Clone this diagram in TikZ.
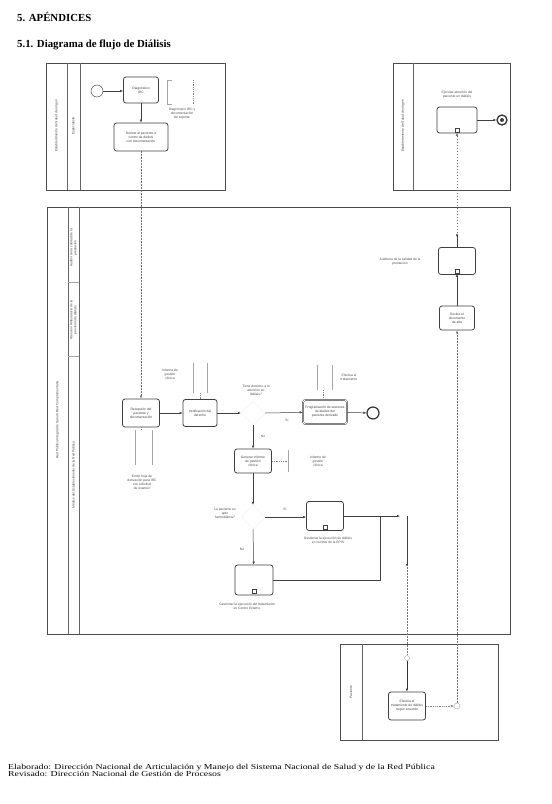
\documentclass[tikz,border=0pt]{standalone}
\usepackage{fontspec}
\setmainfont{Liberation Serif}
\newfontfamily\diag{Liberation Sans}
\usetikzlibrary{arrows.meta,shapes.geometric}
\begin{document}
\begin{tikzpicture}[x=1pt,y=-1pt,
  poolbox/.style={draw=black!70, line width=0.6pt},
  bandline/.style={draw=black!60, line width=0.5pt},
  task/.style={draw=black!75, rounded corners=2.5pt, line width=0.8pt, fill=white,
     font=\diag\fontsize{3.3}{4.1}\selectfont, align=center, inner sep=1pt, text=black!75},
  tiny/.style={font=\diag\fontsize{3.3}{4.1}\selectfont, align=center, text=black!70, inner sep=0.5pt},
  lanelabel/.style={font=\diag\fontsize{3.3}{4.1}\selectfont, align=center, text=black!75, rotate=90, inner sep=0.5pt},
  flow/.style={-{Latex[length=3pt,width=2.4pt]}, draw=black!75, line width=0.5pt},
  plain/.style={draw=black!75, line width=0.5pt},
  msg/.style={draw=black!55, line width=0.45pt, dash pattern=on 1.5pt off 1.5pt},
  msgarrow/.style={msg, -{Latex[length=3pt,width=2.4pt]}},
  assoc/.style={draw=black!50, line width=0.4pt, dash pattern=on 0.6pt off 1.2pt},
  notebr/.style={draw=black!35, line width=0.4pt},
  gate/.style={diamond, draw=black!5, line width=0.3pt, minimum width=24pt, minimum height=24pt, inner sep=0pt},
  evstart/.style={circle, draw=black!70, line width=0.5pt, minimum size=12pt, inner sep=0pt},
  evend/.style={circle, draw=black!80, line width=1.2pt, minimum size=12pt, inner sep=0pt},
  subm/.style={draw=black!75, line width=0.5pt, fill=white, minimum size=4pt, inner sep=0pt}
]
\path[use as bounding box, fill=white] (0,0) rectangle (552,804);

% Titles
\node[anchor=west, font=\bfseries\fontsize{10.8}{12}\selectfont, inner sep=0pt] (title1) at (17,17) {5. APÉNDICES};
\node[anchor=west, font=\bfseries\fontsize{10.8}{12}\selectfont, inner sep=0pt] (title2) at (17,45) {5.1. Diagrama de flujo de Diálisis};

% ---------- Pool 1 (top left)
\draw[poolbox] (46,63) rectangle (225,190);
\draw[bandline] (67,63) -- (67,190);
\draw[bandline] (80,63) -- (80,190);
\node[lanelabel] (p1lab) at (56.5,126) {Establecimiento de Salud de origen};
\node[lanelabel] (l1lab) at (73.5,126) {Especialista};

% ---------- Pool 2 (top right)
\draw[poolbox] (393,63) rectangle (510,190);
\draw[bandline] (413,63) -- (413,190);
\node[lanelabel] (p2lab) at (403,126) {Establecimiento de Salud de origen};

% ---------- Main pool
\draw[poolbox] (47,207) rectangle (510,634);
\draw[bandline] (68,207) -- (68,634);
\draw[bandline] (79,207) -- (79,634);
\draw[bandline, black!35] (68,282) -- (79,282);
\draw[bandline, black!35] (68,356) -- (79,356);
\node[lanelabel] (p3lab) at (57.5,420) {Red Pública Integral de Salud / Red Complementaria};
\node[lanelabel] (l2lab) at (73.5,248) {Auditor de la calidad de la\\prestación};
\node[lanelabel] (l3lab) at (73.5,320) {Atención Ambulatoria de la\\provisión de diálisis};
\node[lanelabel] (l4lab) at (73.5,475) {Médico del Establecimiento de la Red Pública};

% ---------- Bottom pool
\draw[poolbox] (340,644) rectangle (498,740);
\draw[bandline] (362,644) -- (362,740);
\node[lanelabel] (p4lab) at (351,692) {Paciente};

% ---------- Pool 1 content
\node[evstart] (start) at (97,91) {};
\node[task, minimum width=35pt, minimum height=26pt] (t1) at (141,90) {Diagnóstico\\IRC};
\node[task, minimum width=54pt, minimum height=28pt] (t2) at (141,137) {Derivar al paciente a\\centro de diálisis\\con documentación};
\draw[notebr] (172,80) -- (167,80) -- (167,104) -- (172,104);
\draw[assoc] (193,80) -- (193,104);
\node[tiny] (a1) at (182,114) {Diagnóstico IRC y\\documentación\\de soporte};
\draw[flow] (start) -- (t1.west |- start);
\draw[flow] (t1) -- (t2);

% ---------- Pool 2 content
\node[task, minimum width=40pt, minimum height=26pt] (tr) at (457,120) {};
\node[subm] (trm) at (457,130.5) {};
\node[tiny] (trlab) at (457,95) {Ejecutar atención del\\paciente en diálisis};
\node[circle, draw=black!80, line width=1.3pt, minimum size=10pt, inner sep=0pt] (end2) at (502,120) {};
\node[circle, fill=black!75, minimum size=4pt, inner sep=0pt] (end2i) at (502,120) {};
\draw[flow] (tr) -- (end2);

% ---------- Main pool content
\node[task, minimum width=37pt, minimum height=28pt] (tA) at (141,413) {Recepción del\\paciente y\\documentación};
\node[task, minimum width=34pt, minimum height=27pt] (tB) at (200,413) {Verificación del\\derecho};
\node[gate] (g1) at (253,413) {};
\node[task, minimum width=44pt, minimum height=24pt, double, double distance=0.7pt, line width=0.5pt] (tC) at (325,412) {Programación de sesiones\\de diálisis del\\paciente derivado};
\node[evend] (end1) at (373,413) {};
\node[task, minimum width=37pt, minimum height=24pt] (tD) at (253,461) {Generar informe\\de gestión\\clínica};
\node[gate] (g2) at (253,517) {};
\node[task, minimum width=37pt, minimum height=29pt] (tE) at (325,516) {};
\draw[draw=black!75, line width=1pt] ([xshift=2pt]tE.north west) -- ([xshift=-2pt]tE.north east);
\node[subm] (tEm) at (325,527) {};
\node[task, minimum width=38pt, minimum height=30pt] (tF) at (254,580) {};
\node[subm] (tFm) at (254,591) {};
\node[task, minimum width=37pt, minimum height=27pt] (tH) at (457,261) {};
\node[subm] (tHm) at (457,271.5) {};
\node[task, minimum width=35pt, minimum height=24pt] (tI) at (457,318) {Recibe el\\documento\\de alta};

% labels
\node[tiny] (g1lab) at (256,390) {Tiene derecho a la\\atención en\\diálisis?};
\node[tiny] (g1si) at (287,420) {Sí};
\node[tiny] (g1no) at (263,436) {No};
\node[tiny] (g2lab) at (225,513) {La paciente es\\apto\\hemodiálisis?};
\node[tiny] (g2si) at (285,509) {Sí};
\node[tiny] (g2no) at (242,549) {No};
\node[tiny] (tElab) at (328,540) {Gestionar la ejecución de diálisis\\en centros de la RPIS};
\node[tiny] (tFlab) at (247,606) {Gestionar la ejecución del tratamiento\\en Centro Externo};
\node[tiny] (tHlab) at (400,262) {Auditoría de la calidad de la\\prestación};

% annotations
\draw[notebr] (193,363) -- (193,393);
\draw[notebr] (207,363) -- (207,393);
\node[tiny] (a2) at (170,374) {Informe de\\gestión\\clínica};
\draw[assoc] (200,393) -- (tB.north);
\draw[notebr] (135,430) -- (135,465);
\draw[notebr] (152,430) -- (152,465);
\draw[assoc] (tA.south) -- (141,430);
\node[tiny] (a3) at (142,482) {Emitir hoja de\\derivación para IRC\\con solicitud\\de examen};
\draw[notebr] (317,365) -- (317,390);
\draw[notebr] (332,365) -- (332,390);
\draw[assoc] (323,390) -- (323,400);
\node[tiny] (a4) at (349,377) {Efectúa el\\tratamiento};
\draw[assoc] (tD.east) -- (288,461);
\draw[notebr] (288,450) -- (288,472);
\node[tiny] (a5) at (318,461) {Informe de\\gestión\\clínica};

% flows
\draw[msgarrow] (t2.south) -- (tA.north);
\draw[flow] (tA) -- (tB);
\draw[flow] (tB) -- (g1.west);
\draw[flow] (g1.east) -- (tC);
\draw[flow] (tC) -- (end1);
\draw[flow] (g1.south) -- (tD);
\draw[flow] (tD) -- (g2.north);
\draw[flow] (g2.east) -- (tE.west |- g2.east);
\draw[flow] (g2.south) -- (tF);
\coordinate (mj) at (380,516);
\coordinate (mr) at (400,516);
\draw[plain] (tE.east |- mj) -- (mj);
\draw[flow] (mj) -- (mr);
\draw[plain] (tF.east) -- (380,580) -- (mj);
\coordinate (mv) at (407,516);
\coordinate (mv2) at (407,567);
\draw[flow] (mv) -- (mv2);
\node[circle, draw=black!35, line width=0.4pt, minimum size=5pt, inner sep=0pt] (c1) at (407,658) {};
\draw[msg] (mv2) -- (c1);

% bottom pool
\node[task, minimum width=37pt, minimum height=28pt] (tG) at (407,706) {Efectúa el\\tratamiento de diálisis\\según acuerdo};
\draw[-{Latex[length=3pt,width=2.4pt]}, draw=black!80, line width=0.9pt] (c1) -- (tG);
\node[circle, draw=black!35, line width=0.4pt, minimum size=6pt, inner sep=0pt] (c2) at (457,706) {};
\draw[assoc, -{Latex[length=3pt,width=2.4pt]}] (tG) -- (c2);
\draw[msgarrow] (c2) -- (tI.south);
\draw[flow] (tI) -- (tHm);
\coordinate (up1) at (457,233);
\draw[flow] (tH) -- (up1);
\draw[msgarrow] (up1) -- (trm);

% footer
\node[anchor=west, font=\fontsize{7.6}{7.5}\selectfont, inner sep=0pt, align=left] (foot) at (8,770.5) {\scalebox{1.29}[1]{Elaborado: Dirección Nacional de Articulación y Manejo del Sistema Nacional de Salud y de la Red Pública}\\\scalebox{1.29}[1]{Revisado: Dirección Nacional de Gestión de Procesos}};
\end{tikzpicture}
\end{document}
